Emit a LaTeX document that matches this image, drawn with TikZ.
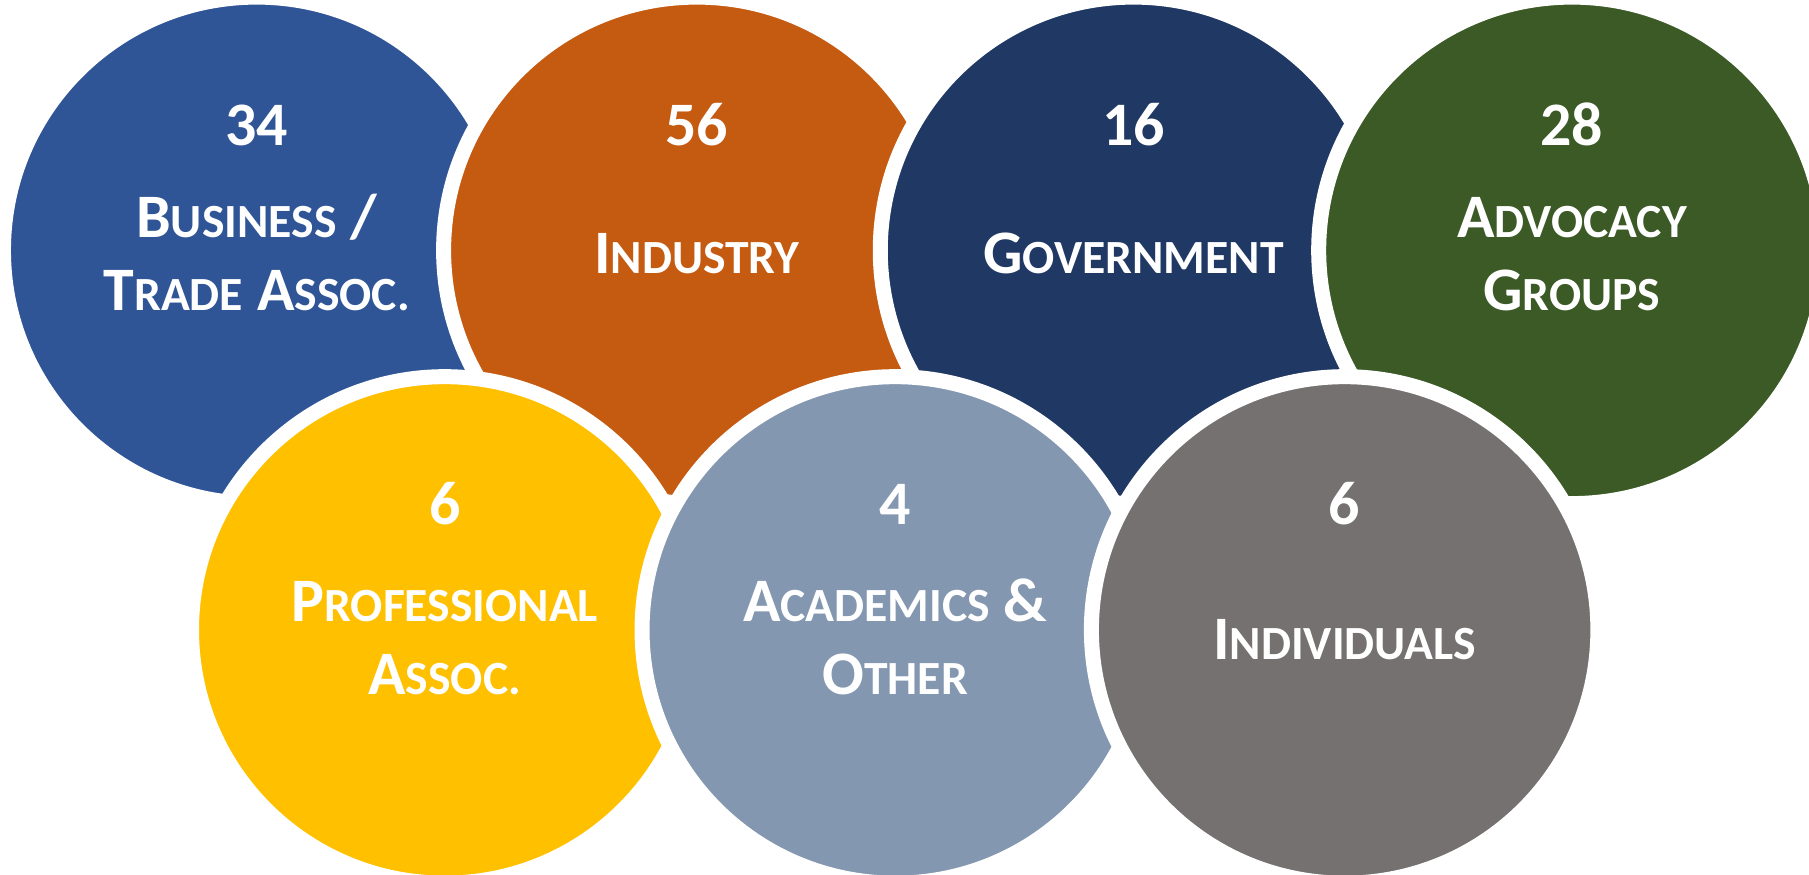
\documentclass[tikz,border=0pt]{standalone}
\usepackage{fontspec}
\setmainfont{Carlito}

\definecolor{bizblue}{HTML}{2F5597}
\definecolor{indorange}{HTML}{C55A11}
\definecolor{govnavy}{HTML}{203864}
\definecolor{advgreen}{HTML}{3B5A26}
\definecolor{profyellow}{HTML}{FFC000}
\definecolor{acadblue}{HTML}{8497B0}
\definecolor{indivgrey}{HTML}{767171}

% smaller capitals for the fake small caps
\newcommand{\smc}[1]{{\fontsize{23.5}{36}\selectfont #1}}

\tikzset{
	bubble/.style={circle, draw=white, line width=0.26cm, minimum size=8.78cm, inner sep=0pt},
	count/.style={text=white, font=\bfseries\fontsize{30.5}{36}\selectfont, anchor=base, inner sep=0pt},
	tag/.style={text=white, font=\bfseries\fontsize{30.5}{36}\selectfont, anchor=base, align=center, inner sep=0pt}
}

\begin{document}
\begin{tikzpicture}
	\useasboundingbox (0,0) rectangle (31.36,15.16);

	% top row
	\node[bubble, fill=bizblue] (business) at (4.45,10.82) {};
	\node[bubble, fill=indorange] (industry) at (12.08,10.82) {};
	\node[bubble, fill=govnavy] (government) at (19.65,10.82) {};
	\node[bubble, fill=advgreen] (advocacy) at (27.25,10.82) {};

	% bottom row
	\node[bubble, fill=profyellow] (professional) at (7.71,4.24) {};
	\node[bubble, fill=acadblue] (academics) at (15.52,4.24) {};
	\node[bubble, fill=indivgrey] (individuals) at (23.31,4.24) {};

	% base anchor of a two-line tag sits on its last line
	\node[count] (n-business) at ([yshift=1.82cm]business.center) {34};
	\node[tag] (t-business) at ([yshift=-1.04cm]business.center) {B\smc{USINESS} /\\T\smc{RADE} A\smc{SSOC.}};

	\node[count] (n-industry) at ([yshift=1.82cm]industry.center) {56};
	\node[tag] (t-industry) at ([yshift=-0.41cm]industry.center) {I\smc{NDUSTRY}};

	\node[count] (n-government) at ([yshift=1.82cm]government.center) {16};
	\node[tag] (t-government) at ([yshift=-0.41cm]government.center) {G\smc{OVERNMENT}};

	\node[count] (n-advocacy) at ([yshift=1.82cm]advocacy.center) {28};
	\node[tag] (t-advocacy) at ([yshift=-1.04cm]advocacy.center) {A\smc{DVOCACY}\\G\smc{ROUPS}};

	\node[count] (n-professional) at ([yshift=1.82cm]professional.center) {6};
	\node[tag] (t-professional) at ([yshift=-1.12cm]professional.center) {P\smc{ROFESSIONAL}\\A\smc{SSOC.}};

	\node[count] (n-academics) at ([yshift=1.82cm]academics.center) {4};
	\node[tag] (t-academics) at ([yshift=-1.12cm]academics.center) {A\smc{CADEMICS} \&\\O\smc{THER}};

	\node[count] (n-individuals) at ([yshift=1.82cm]individuals.center) {6};
	\node[tag] (t-individuals) at ([yshift=-0.52cm]individuals.center) {I\smc{NDIVIDUALS}};
\end{tikzpicture}
\end{document}
